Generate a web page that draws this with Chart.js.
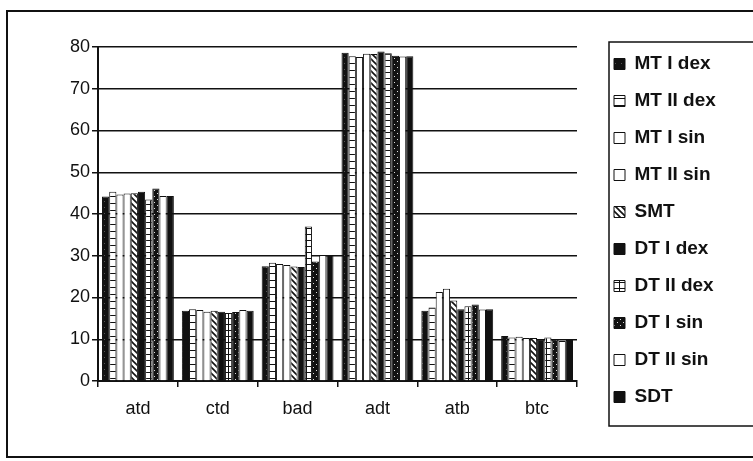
<!DOCTYPE html>
<html lang="en">
<head>
  <meta charset="UTF-8">
  <title>Bar chart</title>
  <script src="https://cdn.jsdelivr.net/npm/chart.js"></script>
  <style>
    html, body { margin: 0; padding: 0; background: #fff; overflow: hidden; }
    #frame { position: absolute; left: 6px; top: 10px; width: 780px; height: 444px; border: 2px solid #111; }
    #wrap { position: absolute; left: 0; top: 0; width: 753px; height: 461px; }
  </style>
</head>
<body>
  <div id="frame"></div>
  <div id="wrap"><canvas id="chart" width="753" height="461"></canvas></div>
  <script>
    const categories = ["atd", "ctd", "bad", "adt", "atb", "btc"];
    const seriesNames = ["MT I dex", "MT II dex", "MT I sin", "MT II sin", "SMT",
                         "DT I dex", "DT II dex", "DT I sin", "DT II sin", "SDT"];

    const mtIDex  = [44.2, 16.8, 27.5, 78.6, 16.8, 10.8];
    const mtIIDex = [45.3, 17.2, 28.3, 77.8, 17.6, 10.4];
    const mtISin  = [44.7, 17.0, 28.0, 77.6, 21.3, 10.6];
    const mtIISin = [44.9, 16.6, 27.8, 78.4, 22.1, 10.3];
    const smt     = [45.0, 16.8, 27.4, 78.3, 19.3, 10.3];
    const dtIDex  = [45.3, 16.6, 27.3, 78.9, 17.2, 10.0];
    const dtIIDex = [43.5, 16.3, 37.0, 78.5, 17.9, 10.4];
    const dtISin  = [46.1, 16.5, 28.6, 77.9, 18.3, 9.9];
    const dtIISin = [44.3, 17.0, 30.2, 77.7, 17.1, 9.6];
    const sdt     = [44.3, 16.8, 30.2, 77.8, 17.2, 9.8];

    const yTicks = [0, 10, 20, 30, 40, 50, 60, 70, 80];

    const seriesValues = [mtIDex, mtIIDex, mtISin, mtIISin, smt, dtIDex, dtIIDex, dtISin, dtIISin, sdt];
    const fills = ["speck", "hlines", "white", "white", "diag", "black", "grid", "dense", "white", "black"];

    // small tiles for the printed-style fills
    function pattern(kind) {
      const s = kind === "hlines" ? 7 : 6;
      const c = document.createElement("canvas");
      c.width = s; c.height = s;
      const g = c.getContext("2d");
      g.fillStyle = "#fff"; g.fillRect(0, 0, s, s);
      g.fillStyle = "#111"; g.strokeStyle = "#111";
      if (kind === "black") g.fillRect(0, 0, s, s);
      if (kind === "speck") { g.fillRect(0, 0, s, s); g.fillStyle = "#555"; g.fillRect(2, 3, 1, 1); }
      if (kind === "hlines") g.fillRect(0, 0, s, 1);
      if (kind === "grid") { g.fillRect(0, 0, s, 1); g.fillRect(0, 0, 1, s); }
      if (kind === "dense") { g.fillRect(0, 0, s, s); g.fillStyle = "#ddd"; g.fillRect(1, 1, 1, 1); g.fillRect(4, 4, 1, 1); }
      if (kind === "diag") {
        g.lineWidth = 1.6;
        g.beginPath();
        g.moveTo(-1, -1); g.lineTo(s + 1, s + 1);
        g.moveTo(-1, s - 1); g.lineTo(1, s + 1);
        g.moveTo(s - 1, -1); g.lineTo(s + 1, 1);
        g.stroke();
      }
      return g.createPattern(c, "repeat");
    }

    const datasets = seriesNames.map((name, i) => ({
      label: name,
      data: seriesValues[i],
      backgroundColor: pattern(fills[i]),
      borderColor: "#111",
      borderWidth: 1,
      categoryPercentage: 0.9,
      barPercentage: 1.0
    }));

    const legendShift = 19;

    const legendTweaks = {
      id: "legendTweaks",
      beforeLayout(chart) {
        const lg = chart.legend;
        if (lg && !lg._tweaked) {
          const fit = lg.fit.bind(lg);
          lg.fit = function () { fit(); this.width = 176; };
          const draw = lg.draw.bind(lg);
          lg.draw = function () {
            const ctx = this.ctx;
            ctx.save(); ctx.translate(legendShift, 0); draw(); ctx.restore();
          };
          lg._tweaked = true;
        }
      },
      afterDraw(chart) {
        const ctx = chart.ctx;
        const x = chart.legend.left + 32;
        ctx.save();
        ctx.strokeStyle = "#111";
        ctx.lineWidth = 1.5;
        ctx.strokeRect(x, 42, 800 - x, 384);
        ctx.restore();
      }
    };

    new Chart(document.getElementById("chart"), {
      type: "bar",
      data: { labels: categories, datasets: datasets },
      options: {
        responsive: false,
        animation: false,
        layout: { padding: { left: 68, right: 0, top: 0, bottom: 0 } },
        plugins: {
          title: { display: true, text: "", fullSize: false, font: { size: 10 }, padding: { top: 35, bottom: 0 } },
          tooltip: { enabled: false },
          legend: {
            position: "right",
            labels: {
              boxWidth: 11,
              boxHeight: 11,
              padding: 18,
              color: "#111",
              font: { family: "'Liberation Sans', Arial, sans-serif", size: 19, weight: "bold" }
            }
          }
        },
        scales: {
          x: {
            offset: true,
            grid: { display: true, drawOnChartArea: false, offset: true, color: "#111", tickLength: 6, lineWidth: 1.5 },
            border: { color: "#111", width: 2 },
            ticks: { color: "#111", padding: 11, font: { family: "'Liberation Sans', Arial, sans-serif", size: 18 } },
            afterFit: s => { s.height = 80; }
          },
          y: {
            min: 0,
            max: 80,
            afterBuildTicks: s => { s.ticks = yTicks.map(v => ({ value: v })); },
            grid: { color: "#111", lineWidth: 1.5, tickLength: 6 },
            border: { color: "#111", width: 2 },
            ticks: { color: "#111", padding: 2, font: { family: "'Liberation Sans', Arial, sans-serif", size: 18 } }
          }
        }
      },
      plugins: [legendTweaks]
    });
  </script>
</body>
</html>
